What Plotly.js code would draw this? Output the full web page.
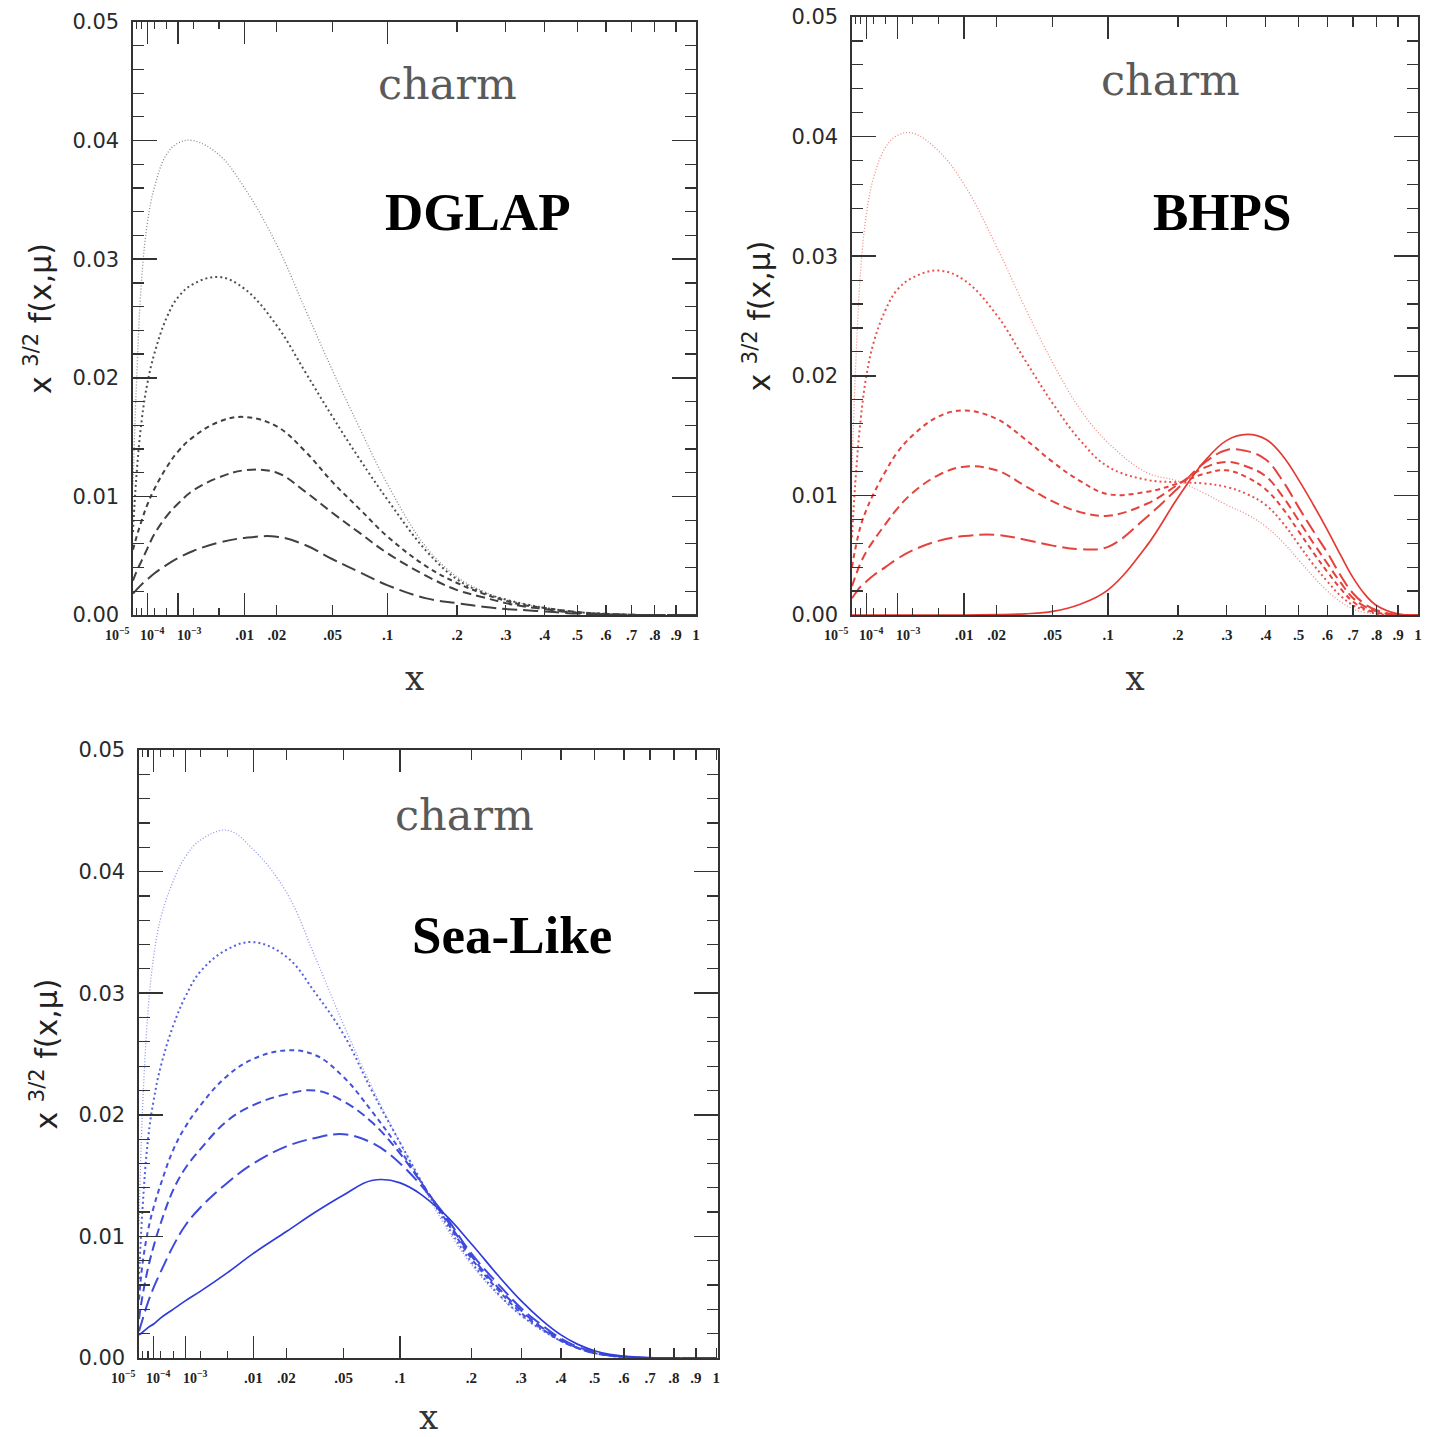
<!DOCTYPE html>
<html>
<head>
<meta charset="utf-8">
<script src="https://cdn.plot.ly/plotly-3.0.1.min.js"></script>
<style>html,body{margin:0;padding:0;background:#fff;}#chart{width:1430px;height:1437px;}</style>
</head>
<body>
<div id="chart"></div>
<script>
// ---- data: momentum fraction x and x^{3/2} f(x,mu) ----
const xVals = [1e-5, 2e-5, 5e-5, 1e-4, 2e-4, 5e-4, 1e-3, 2e-3, 5e-3, 0.01, 0.02, 0.033, 0.05, 0.072, 0.1, 0.15, 0.2, 0.25, 0.3, 0.35, 0.4, 0.45, 0.5, 0.55, 0.6, 0.65, 0.7, 0.75, 0.8, 0.9, 1.0];

// DGLAP panel (5 visible curves)
const dglap1 = [0.0110,0.0190,0.0285,0.0330,0.0360,0.0388,0.0398,0.0400,0.0388,0.0360,0.0312,0.0258,0.0206,0.0157,0.0110,0.0057,0.0032,0.0020,0.0013,0.0009,0.0006,0.0004,0.00025,0.00015,0.0001,0.00006,0.00003,0.00001,0,0,0];
const dglap2 = [0.0070,0.0115,0.0165,0.0195,0.0220,0.0250,0.0268,0.0279,0.0285,0.0275,0.0244,0.0205,0.0167,0.0131,0.0097,0.0054,0.0030,0.0019,0.0013,0.0009,0.0006,0.0004,0.00025,0.00015,0.0001,0.00005,0.00002,0,0,0,0];
const dglap3 = [0.0055,0.0065,0.0080,0.0093,0.0106,0.0124,0.0138,0.0150,0.0163,0.0167,0.0159,0.0138,0.0112,0.0089,0.0066,0.0041,0.0027,0.0018,0.0012,0.0008,0.0006,0.0004,0.00025,0.00015,0.0001,0.00005,0.00002,0,0,0,0];
const dglap4 = [0.0029,0.0036,0.0046,0.0056,0.0068,0.0083,0.0094,0.0105,0.0116,0.0122,0.0120,0.0104,0.0086,0.0069,0.0052,0.0033,0.0021,0.0015,0.0010,0.0007,0.0005,0.0003,0.0002,0.00012,0.00008,0.00004,0.00002,0,0,0,0];
const dglap5 = [0.0018,0.0021,0.0026,0.0030,0.0035,0.0042,0.0048,0.0054,0.0061,0.0065,0.0066,0.0059,0.0047,0.0036,0.0025,0.0014,0.0010,0.0007,0.0005,0.0004,0.0003,0.0002,0.00012,0.00008,0.00005,0.00002,0,0,0,0,0];

// BHPS panel (6 curves)
const bhps1 = [0.0120,0.0200,0.0290,0.0335,0.0365,0.0391,0.0401,0.0403,0.0388,0.0360,0.0308,0.0257,0.0211,0.0172,0.0144,0.0119,0.0112,0.0102,0.0092,0.0084,0.0074,0.0061,0.0046,0.0032,0.0020,0.0011,0.0005,0.0002,0.0001,0,0];
const bhps2 = [0.0065,0.0110,0.0165,0.0200,0.0227,0.0255,0.0272,0.0282,0.0288,0.0280,0.0251,0.0213,0.0177,0.0146,0.0124,0.0113,0.0111,0.0110,0.0107,0.0101,0.0092,0.0077,0.0059,0.0042,0.0028,0.0016,0.0008,0.0004,0.0001,0,0];
const bhps3 = [0.0040,0.0055,0.0075,0.0088,0.0101,0.0120,0.0136,0.0150,0.0166,0.0171,0.0164,0.0147,0.0128,0.0112,0.0101,0.0103,0.0110,0.0118,0.0121,0.0115,0.0105,0.0089,0.0070,0.0052,0.0036,0.0022,0.0011,0.0005,0.0002,0,0];
const bhps4 = [0.0024,0.0032,0.0044,0.0053,0.0062,0.0076,0.0089,0.0102,0.0117,0.0124,0.0121,0.0108,0.0095,0.0086,0.0083,0.0093,0.0109,0.0123,0.0128,0.0124,0.0116,0.0099,0.0079,0.0060,0.0043,0.0027,0.0014,0.0007,0.0003,0,0];
const bhps5 = [0.0014,0.0018,0.0024,0.0028,0.0033,0.0040,0.0047,0.0054,0.0062,0.0066,0.0067,0.0063,0.0058,0.0055,0.0057,0.0082,0.0106,0.0127,0.0138,0.0137,0.0130,0.0112,0.0090,0.0070,0.0052,0.0033,0.0018,0.0009,0.0004,0,0];
const bhps6 = [0,0,0,0,0,0,0,0,0,0,0.00003,0.0001,0.0003,0.0009,0.0021,0.0058,0.0098,0.0128,0.0146,0.0151,0.0147,0.0133,0.0113,0.0092,0.0071,0.0050,0.0031,0.0017,0.0008,0.0001,0];

// Sea-Like panel (6 curves)
const sea1 = [0.0110,0.0200,0.0285,0.0330,0.0362,0.0392,0.0412,0.0426,0.0434,0.0418,0.0383,0.0329,0.0274,0.0223,0.0177,0.0116,0.0077,0.0052,0.0035,0.0023,0.0014,0.0008,0.0004,0.0002,0.0001,0.00005,0.00002,0,0,0,0];
const sea2 = [0.0065,0.0120,0.0180,0.0212,0.0240,0.0273,0.0297,0.0318,0.0336,0.0342,0.0330,0.0300,0.0266,0.0220,0.0177,0.0119,0.0079,0.0053,0.0035,0.0023,0.0014,0.0008,0.0004,0.0002,0.0001,0.00005,0,0,0,0,0];
const sea3 = [0.0048,0.0076,0.0105,0.0124,0.0143,0.0171,0.0190,0.0208,0.0232,0.0246,0.0253,0.0249,0.0231,0.0203,0.0171,0.0121,0.0082,0.0056,0.0037,0.0024,0.0014,0.0008,0.0004,0.0002,0.0001,0.00005,0,0,0,0,0];
const sea4 = [0.0032,0.0050,0.0074,0.0092,0.0111,0.0138,0.0156,0.0172,0.0195,0.0208,0.0217,0.0220,0.0211,0.0194,0.0168,0.0122,0.0084,0.0058,0.0039,0.0025,0.0015,0.0008,0.0004,0.0002,0.0001,0.00005,0,0,0,0,0];
const sea5 = [0.0022,0.0031,0.0046,0.0058,0.0071,0.0092,0.0109,0.0124,0.0144,0.0160,0.0174,0.0181,0.0184,0.0177,0.0160,0.0123,0.0086,0.0061,0.0041,0.0027,0.0016,0.0009,0.0005,0.0002,0.0001,0.00005,0,0,0,0,0];
const sea6 = [0.0019,0.0021,0.0025,0.0028,0.0033,0.0040,0.0047,0.0055,0.0070,0.0086,0.0104,0.0120,0.0134,0.0146,0.0144,0.0122,0.0094,0.0068,0.0047,0.0031,0.0019,0.0011,0.0006,0.0003,0.00015,0.00007,0.00003,0,0,0,0];

// axis tick values / labels
const tickX = [0.01, 0.02, 0.05, 0.1, 0.2, 0.3, 0.4, 0.5, 0.6, 0.7, 0.8, 0.9, 1];
const tickLabels = ['.01', '.02', '.05', '.1', '.2', '.3', '.4', '.5', '.6', '.7', '.8', '.9', '1'];
const decadeX = [1e-4, 1e-3, 1e-2, 1e-1];
const minorX = [2e-5, 5e-5, 2e-4, 5e-4, 2e-3, 5e-3];
const decadeLabels = ['10<sup>\u22125</sup>', '10<sup>\u22124</sup>', '10<sup>\u22123</sup>'];
const panelLabels = ['DGLAP', 'BHPS', 'Sea-Like'];
const flavour = 'charm';

// ---- the horizontal axis is linear in x^(1/3) ----
const u = v => Math.cbrt(v);
const uVals = xVals.map(u);

const styles = [
  {dash: '1px,2px', width: 1.3},
  {dash: '2px,3px', width: 2.0},
  {dash: '5px,4px', width: 2.0},
  {dash: '9px,5px', width: 2.0},
  {dash: '15px,6px', width: 2.0},
  {dash: 'solid', width: 1.7}
];
const panels = [
  {series: [dglap1, dglap2, dglap3, dglap4, dglap5], colors: ['#8a8a8a', '#505050', '#404040', '#404040', '#404040'], xa: 'x', ya: 'y'},
  {series: [bhps1, bhps2, bhps3, bhps4, bhps5, bhps6], colors: ['#f28a85', '#e9524c', '#e5423c', '#e5423c', '#e5423c', '#e53a34'], xa: 'x2', ya: 'y2'},
  {series: [sea1, sea2, sea3, sea4, sea5, sea6], colors: ['#8f96ec', '#5561e0', '#4652dd', '#3e4adb', '#3e4adb', '#2f3cdb'], xa: 'x3', ya: 'y3'}
];

const traces = [];
panels.forEach(p => {
  p.series.forEach((s, i) => {
    traces.push({
      type: 'scatter', mode: 'lines', x: uVals, y: s,
      xaxis: p.xa, yaxis: p.ya, showlegend: false, hoverinfo: 'skip',
      line: {color: p.colors[i], width: styles[i].width, dash: styles[i].dash, shape: 'spline', smoothing: 1.1}
    });
  });
});
// empty traces so that the overlay tick axes are created
[['x4', 'y'], ['x5', 'y2'], ['x6', 'y3']].forEach(([xa, ya]) => {
  traces.push({type: 'scatter', mode: 'lines', x: [], y: [], xaxis: xa, yaxis: ya, showlegend: false, hoverinfo: 'skip'});
});

const W = 1430, H = 1437;
const dom = [
  {x: [133, 696], y: [22, 615]},
  {x: [852, 1418], y: [17, 615]},
  {x: [139, 718], y: [750, 1358]}
];
const xr = [u(1e-5), 1];
const xr3 = [u(1e-5), 1.003];
const lineC = '#333';

function xMain(d, anchor, range) {
  return {
    domain: [d.x[0] / W, d.x[1] / W], anchor: anchor, range: range,
    tickmode: 'array', tickvals: tickX.map(u), ticktext: tickLabels, tickangle: 0,
    ticks: 'inside', ticklen: 10, tickwidth: 1.4, tickcolor: lineC,
    minor: {tickmode: 'array', tickvals: minorX.map(u), ticks: 'inside', ticklen: 7, tickwidth: 1.2, tickcolor: lineC},
    mirror: 'ticks', showline: true, linecolor: lineC, linewidth: 1.6,
    showgrid: false, zeroline: false, ticklabelstandoff: 5,
    tickfont: {family: 'Liberation Serif', size: 15, color: '#222', weight: 'bold'},
    title: {text: 'x', font: {family: 'DejaVu Serif', size: 34, color: '#333'}, standoff: 24}
  };
}
function xOver(over, anchor, range) {
  return {
    overlaying: over, anchor: anchor, range: range,
    tickmode: 'array', tickvals: decadeX.map(u), showticklabels: false,
    ticks: 'inside', ticklen: 22, tickwidth: 1.4, tickcolor: lineC,
    mirror: 'ticks', showline: false, showgrid: false, zeroline: false
  };
}
function yAxis(d, anchor) {
  return {
    domain: [1 - d.y[1] / H, 1 - d.y[0] / H], anchor: anchor, range: [0, 0.05],
    tickmode: 'linear', tick0: 0, dtick: 0.01, tickformat: '.2f',
    ticks: 'inside', ticklen: 24, tickwidth: 1.5, tickcolor: lineC,
    minor: {dtick: 0.002, ticks: 'inside', ticklen: 11, tickwidth: 1.2, tickcolor: lineC},
    mirror: 'ticks', showline: true, linecolor: lineC, linewidth: 1.6,
    showgrid: false, zeroline: false, ticklabelstandoff: 8,
    tickfont: {family: 'DejaVu Sans', size: 21, color: '#2a2a2a'},
    title: {text: 'x <sup>3/2</sup> f(x,\u03bc)', font: {family: 'DejaVu Sans', size: 30, color: '#222'}, standoff: 12}
  };
}

const annotations = [];
const labelPos = [
  {charm: [0.558, 0.895], name: [0.613, 0.680]},
  {charm: [0.562, 0.895], name: [0.654, 0.674]},
  {charm: [0.563, 0.893], name: [0.644, 0.696]}
];
const axRefs = [['x', 'y'], ['x2', 'y2'], ['x3', 'y3']];
const decShift = [-16, 19, 56];
axRefs.forEach(([xa, ya], k) => {
  annotations.push({xref: xa + ' domain', yref: ya + ' domain', x: labelPos[k].charm[0], y: labelPos[k].charm[1],
    text: flavour, showarrow: false, xanchor: 'center', yanchor: 'middle',
    font: {family: 'DejaVu Serif', size: 43, color: '#5a5a5a'}});
  annotations.push({xref: xa + ' domain', yref: ya + ' domain', x: labelPos[k].name[0], y: labelPos[k].name[1],
    text: '<b>' + panelLabels[k] + '</b>', showarrow: false, xanchor: 'center', yanchor: 'middle',
    font: {family: 'Liberation Serif', size: 53, color: '#000'}});
  decadeLabels.forEach((t, j) => {
    annotations.push({xref: xa + ' domain', yref: ya + ' domain', x: 0, y: 0, xshift: decShift[j], yshift: -19,
      text: t, showarrow: false, xanchor: 'center', yanchor: 'middle',
      font: {family: 'Liberation Serif', size: 14, color: '#222', weight: 'bold'}});
  });
});

const layout = {
  width: W, height: H, margin: {l: 0, r: 0, t: 0, b: 0},
  paper_bgcolor: '#fff', plot_bgcolor: '#fff', showlegend: false,
  xaxis: xMain(dom[0], 'y', xr), yaxis: yAxis(dom[0], 'x'),
  xaxis2: xMain(dom[1], 'y2', xr), yaxis2: yAxis(dom[1], 'x2'),
  xaxis3: xMain(dom[2], 'y3', xr3), yaxis3: yAxis(dom[2], 'x3'),
  xaxis4: xOver('x', 'y', xr), xaxis5: xOver('x2', 'y2', xr), xaxis6: xOver('x3', 'y3', xr3),
  annotations: annotations
};

Plotly.newPlot('chart', traces, layout, {staticPlot: true, displayModeBar: false});
</script>
</body>
</html>
